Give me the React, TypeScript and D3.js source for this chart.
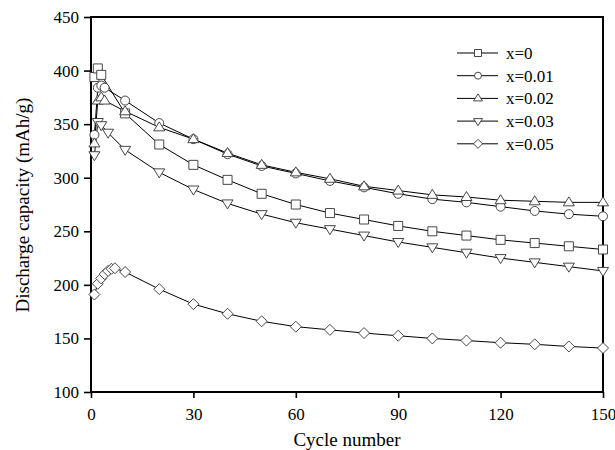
import { useRef, useEffect } from 'react';
import * as d3 from 'd3';

var W = 615;
var H = 450;

var CYCLES = [10, 20, 30, 40, 50, 60, 70, 80, 90, 100, 110, 120, 130, 140, 150];

var X0_EARLY = [[1, 394], [2, 402], [3, 396]];
var X0_VALS = [360, 331, 312, 298, 285, 275, 267, 261, 255, 250, 246, 242, 239, 236, 233];

var X001_EARLY = [[1, 340], [2, 384], [3, 386], [4, 384]];
var X001_VALS = [372, 351, 336, 322, 311, 304, 297, 291, 285, 280, 277, 273, 269, 266, 264];

var X002_EARLY = [[1, 332], [2, 372], [3, 375], [4, 372]];
var X002_VALS = [362, 347, 336, 323, 312, 305, 299, 292, 288, 284, 282, 279, 278, 277, 277];

var X003_EARLY = [[1, 321], [2, 352], [3, 349], [5, 342]];
var X003_VALS = [326, 305, 289, 276, 266, 258, 252, 246, 240, 235, 230, 225, 221, 217, 213];

var X005_EARLY = [[1, 191], [2, 201], [3, 206], [4, 210], [5, 213], [6, 215], [7, 215.5]];
var X005_VALS = [212, 196, 182, 173, 166, 161, 158, 155, 152.5, 150, 148, 146, 144.5, 142.5, 141];

var LABELS = ['x=0', 'x=0.01', 'x=0.02', 'x=0.03', 'x=0.05'];
var SHAPES = ['square', 'circle', 'triangle', 'invtriangle', 'diamond'];

function buildSeries(early, vals) {
  return early.concat(CYCLES.map(function (c, i) { return [c, vals[i]]; }));
}

function markerPath(shape, s) {
  var h = s / 2;
  if (shape === 'square') return 'M' + -h + ',' + -h + 'H' + h + 'V' + h + 'H' + -h + 'Z';
  if (shape === 'circle') return 'M' + h + ',0A' + h + ',' + h + ' 0 1,1 ' + -h + ',0A' + h + ',' + h + ' 0 1,1 ' + h + ',0Z';
  if (shape === 'triangle') return 'M0,' + (-h - 1) + 'L' + (h + 1) + ',' + (h - 1) + 'L' + (-h - 1) + ',' + (h - 1) + 'Z';
  if (shape === 'invtriangle') return 'M0,' + (h + 1) + 'L' + (h + 1) + ',' + (-h + 1) + 'L' + (-h - 1) + ',' + (-h + 1) + 'Z';
  return 'M0,' + (-h - 1) + 'L' + (h + 1) + ',0L0,' + (h + 1) + 'L' + (-h - 1) + ',0Z';
}

export default function App() {
  var svgRef = useRef(null);

  useEffect(function () {
    var svg = d3.select(svgRef.current);
    svg.selectAll('*').remove();

    var left = 91, right = 603, top = 17, bottom = 392;
    var x = d3.scaleLinear().domain([0, 150]).range([left, right]);
    var y = d3.scaleLinear().domain([100, 450]).range([bottom, top]);

    var font = '"Liberation Serif", "Times New Roman", serif';

    var series = [
      buildSeries(X0_EARLY, X0_VALS),
      buildSeries(X001_EARLY, X001_VALS),
      buildSeries(X002_EARLY, X002_VALS),
      buildSeries(X003_EARLY, X003_VALS),
      buildSeries(X005_EARLY, X005_VALS)
    ];

    // frame
    svg.append('rect')
      .attr('x', left).attr('y', top)
      .attr('width', right - left).attr('height', bottom - top)
      .attr('fill', 'none').attr('stroke', '#000').attr('stroke-width', 2);

    // x axis
    var xg = svg.append('g').attr('transform', 'translate(0,' + bottom + ')');
    xg.call(d3.axisBottom(x).tickValues(d3.range(0, 151, 15)).tickSize(5).tickFormat(function () { return ''; }));
    xg.call(d3.axisBottom(x).tickValues(d3.range(0, 151, 30)).tickSize(6).tickPadding(10));
    xg.selectAll('.domain').remove();
    xg.selectAll('line').attr('stroke', '#000').attr('stroke-width', 1.6);
    xg.selectAll('text').attr('font-family', font).attr('font-size', 17).attr('fill', '#000');

    // y axis
    var yg = svg.append('g').attr('transform', 'translate(' + left + ',0)');
    yg.call(d3.axisLeft(y).tickValues(d3.range(100, 451, 25)).tickSize(5).tickFormat(function () { return ''; }));
    yg.call(d3.axisLeft(y).tickValues(d3.range(100, 451, 50)).tickSize(7).tickPadding(5));
    yg.selectAll('.domain').remove();
    yg.selectAll('line').attr('stroke', '#000').attr('stroke-width', 1.6);
    yg.selectAll('text').attr('font-family', font).attr('font-size', 17).attr('fill', '#000');

    var line = d3.line()
      .x(function (d) { return x(d[0]); })
      .y(function (d) { return y(d[1]); });

    var plot = svg.append('g');
    series.forEach(function (data) {
      plot.append('path')
        .attr('d', line(data))
        .attr('fill', 'none')
        .attr('stroke', '#000')
        .attr('stroke-width', 1);
    });
    series.forEach(function (data, i) {
      plot.selectAll('.m' + i)
        .data(data)
        .join('path')
        .attr('class', 'm' + i)
        .attr('transform', function (d) { return 'translate(' + x(d[0]) + ',' + y(d[1]) + ')'; })
        .attr('d', markerPath(SHAPES[i], 9))
        .attr('fill', '#fff')
        .attr('stroke', '#333')
        .attr('stroke-width', 0.9);
    });

    // legend
    var lg = svg.append('g');
    LABELS.forEach(function (lab, i) {
      var ly = 53 + i * 22.7;
      lg.append('line').attr('x1', 457).attr('x2', 498).attr('y1', ly).attr('y2', ly)
        .attr('stroke', '#000').attr('stroke-width', 1);
      lg.append('path')
        .attr('transform', 'translate(478,' + ly + ')')
        .attr('d', markerPath(SHAPES[i], 7))
        .attr('fill', '#fff').attr('stroke', '#333').attr('stroke-width', 0.9);
      lg.append('text').attr('x', 506).attr('y', ly + 6)
        .attr('font-family', font).attr('font-size', 17).text(lab);
    });

    // axis titles
    svg.append('text')
      .attr('x', 347).attr('y', 446)
      .attr('text-anchor', 'middle')
      .attr('font-family', font).attr('font-size', 19)
      .text('Cycle number');
    svg.append('text')
      .attr('transform', 'translate(29,205) rotate(-90)')
      .attr('text-anchor', 'middle')
      .attr('font-family', font).attr('font-size', 19)
      .text('Discharge capacity (mAh/g)');
  }, []);

  return (
    <svg ref={svgRef} width={W} height={H} style={{ position: 'absolute', left: 0, top: 0, background: '#fff' }} />
  );
}
